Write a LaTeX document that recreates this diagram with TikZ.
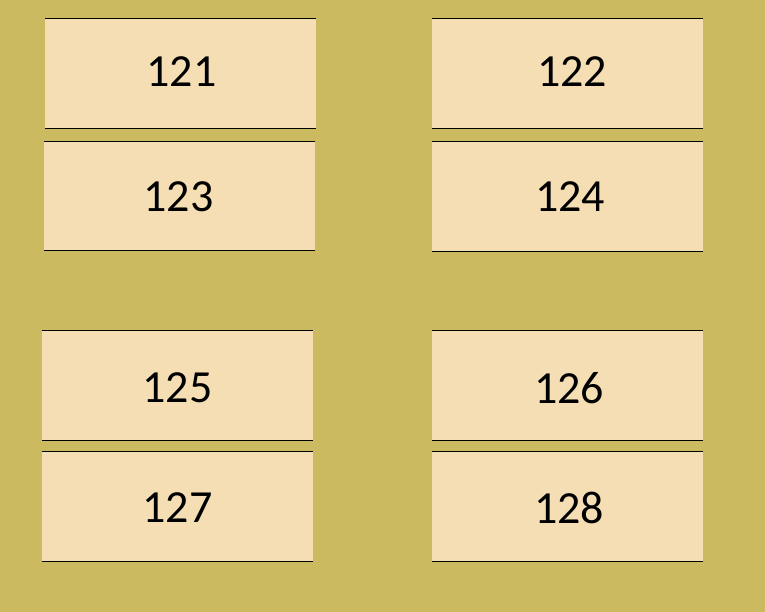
\documentclass[tikz,border=0pt]{standalone}
\usepackage{fontspec}
\setmainfont{Carlito}
\definecolor{bg}{RGB}{203,186,96}
\definecolor{boxfill}{RGB}{245,222,179}
\tikzset{
  numbox/.style={fill=boxfill, draw=none, inner sep=0pt, minimum width=271pt, minimum height=109pt},
  numtext/.style={inner sep=0pt, font=\fontsize{46}{50}\selectfont, text=black},
  edge/.style={draw=black, line width=1pt}
}
\begin{document}
\begin{tikzpicture}[x=1pt,y=-1pt]
\fill[bg] (0,0) rectangle (765,612);
\useasboundingbox (0,0) rectangle (765,612);
\node[numbox] (b121) at (180.5,73.7) {};
\node[numbox] (b123) at (179.5,196) {};
\node[numbox] (b122) at (567.5,73.7) {};
\node[numbox] (b124) at (567.5,196.5) {};
\node[numbox] (b125) at (177.5,385.5) {};
\node[numbox] (b127) at (177.5,506.5) {};
\node[numbox] (b126) at (567.5,385.5) {};
\node[numbox] (b128) at (567.5,506.5) {};
\foreach \n in {b121,b122,b123,b124,b125,b126,b127,b128}{
  \draw[edge] (\n.north west) -- (\n.north east);
  \draw[edge] (\n.south west) -- (\n.south east);
}
\node[numtext] (t121) at ([xshift=1pt,yshift=1.7pt]b121.center) {121};
\node[numtext] (t122) at ([xshift=4.5pt,yshift=1.7pt]b122.center) {122};
\node[numtext] (t123) at ([xshift=-1pt,yshift=-0.5pt]b123.center) {123};
\node[numtext] (t124) at ([xshift=2.5pt]b124.center) {124};
\node[numtext] (t125) at ([yshift=-2.5pt]b125.center) {125};
\node[numtext] (t126) at ([xshift=1.5pt,yshift=-2.8pt]b126.center) {126};
\node[numtext] (t127) at ([yshift=-1.5pt]b127.center) {127};
\node[numtext] (t128) at ([xshift=1.5pt,yshift=-1.3pt]b128.center) {128};
\end{tikzpicture}
\end{document}
